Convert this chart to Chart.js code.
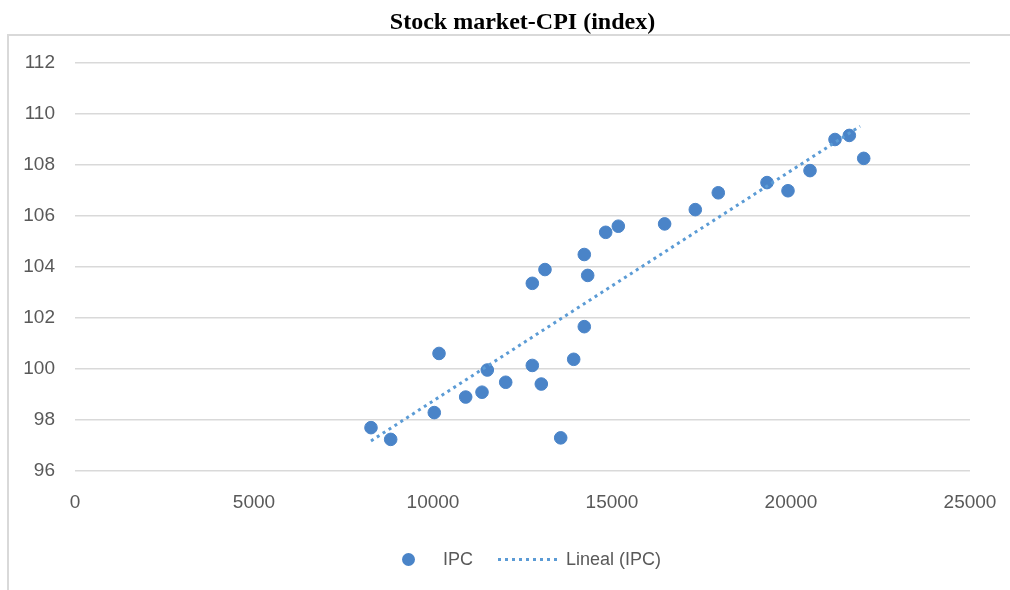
<!DOCTYPE html>
<html>
<head>
<meta charset="utf-8">
<script src="https://cdn.jsdelivr.net/npm/chart.js@4.4.1/dist/chart.umd.min.js"></script>
<style>
  html, body { margin: 0; padding: 0; background: #fff; }
  #wrap { position: relative; width: 1010px; height: 590px; overflow: hidden; }
  #marco { position: absolute; left: 7px; top: 34px; width: 1020px; height: 600px; border: 2px solid #d9d9d9; box-sizing: border-box; }
  #grafico { position: absolute; left: 0; top: 0; }
  #leyenda { position: absolute; top: 548px; left: 0; width: 1010px; font: 18px "Liberation Sans", Arial, sans-serif; color: #595959; }
  .item { position: absolute; top: 0; line-height: 22px; white-space: nowrap; }
  .punto { position: absolute; width: 13px; height: 13px; border-radius: 50%; background: #4a84c8; }
  .linea { position: absolute; width: 61px; height: 3px;
    background: repeating-linear-gradient(to right, #5b9bd5 0 3px, transparent 3px 7px); }
</style>
</head>
<body>
<div id="wrap">
  <div id="marco"></div>
  <canvas id="grafico" width="1010" height="590"></canvas>
  <div id="leyenda">
    <span class="punto" style="left:402px; top:5px;"></span>
    <span class="item" style="left:443px;">IPC</span>
    <span class="linea" style="left:498px; top:10px;"></span>
    <span class="item" style="left:566px;">Lineal (IPC)</span>
  </div>
</div>
<script>
// Datos: bolsa (eje X) vs IPC (eje Y)
const bolsa = [8268, 8818, 10036, 10168, 10913, 11369, 11517, 12031, 12774, 12774,
  13025, 13128, 13567, 13930, 14226, 14226, 14321, 14824, 15176, 16470,
  17327, 17969, 19330, 19916, 20531, 21229, 21629, 22031];
const ipc = [97.70, 97.24, 98.29, 100.61, 98.90, 99.09, 99.96, 99.48, 100.14, 103.36,
  99.41, 103.90, 97.30, 100.38, 101.66, 104.49, 103.67, 105.36, 105.60, 105.69,
  106.25, 106.91, 107.31, 106.99, 107.78, 109.00, 109.16, 108.26];

// Extremos de la línea de tendencia (Lineal (IPC))
const tendenciaX = [8268, 21930];
const tendenciaY = [97.18, 109.52];

const ticksX = [0, 5000, 10000, 15000, 20000, 25000];
const ticksY = [96, 98, 100, 102, 104, 106, 108, 110, 112];

const fuenteEje = { family: "'Liberation Sans', Arial, sans-serif", size: 19 };

new Chart(document.getElementById("grafico").getContext("2d"), {
  type: "scatter",
  data: {
    datasets: [
      {
        label: "IPC",
        data: bolsa.map((x, i) => ({ x, y: ipc[i] })),
        backgroundColor: "#4a84c8",
        borderColor: "#4a84c8",
        pointRadius: 6.3,
        pointHoverRadius: 6.3,
        order: 1
      },
      {
        label: "Lineal (IPC)",
        data: tendenciaX.map((x, i) => ({ x, y: tendenciaY[i] })),
        showLine: true,
        borderColor: "#5b9bd5",
        borderWidth: 3,
        borderDash: [3, 4],
        pointRadius: 0,
        order: 0
      }
    ]
  },
  options: {
    responsive: false,
    animation: false,
    layout: { padding: { left: 0, right: 40, top: 0, bottom: 0 } },
    plugins: {
      legend: { display: false },
      tooltip: { enabled: false },
      title: {
        display: true,
        text: "Stock market-CPI (index)",
        fullSize: false,
        color: "#000",
        font: { family: "'Liberation Serif', 'Times New Roman', serif", size: 24, weight: "bold" },
        padding: { top: 8, bottom: 26.2 }
      }
    },
    scales: {
      x: {
        type: "linear",
        min: 0,
        max: 25000,
        afterBuildTicks: s => { s.ticks = ticksX.map(v => ({ value: v })); },
        afterFit: s => { s.height = 119; s.paddingLeft = 0; s.paddingRight = 0; },
        grid: { display: false, drawTicks: false },
        border: { display: false },
        ticks: { color: "#595959", font: fuenteEje, padding: 20, maxRotation: 0,
          callback: v => String(v) }
      },
      y: {
        type: "linear",
        min: 96,
        max: 112,
        afterBuildTicks: s => { s.ticks = ticksY.map(v => ({ value: v })); },
        afterFit: s => { s.width = 75; },
        grid: { color: "#d9d9d9", lineWidth: 1.6, drawTicks: false },
        border: { display: false },
        ticks: { color: "#595959", font: fuenteEje, padding: 20 }
      }
    }
  }
});
</script>
</body>
</html>
